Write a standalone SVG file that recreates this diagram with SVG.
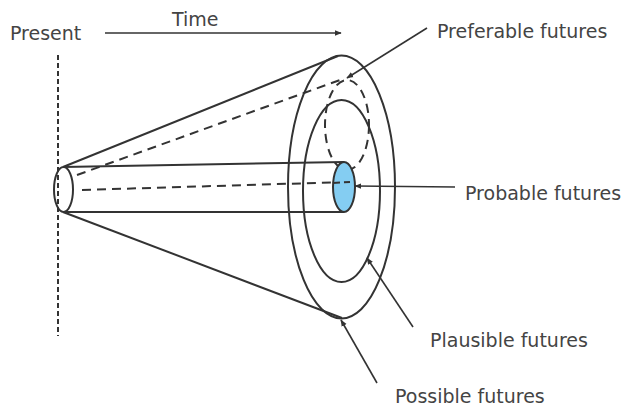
<svg xmlns="http://www.w3.org/2000/svg" width="625" height="408" viewBox="0 0 625 408">
<defs>
<style>
.s{fill:none;stroke:#333;stroke-width:2}
.d{fill:none;stroke:#333;stroke-width:2;stroke-dasharray:9 6}
.t{font-family:"DejaVu Sans",Verdana,sans-serif;font-size:19px;fill:#444}
.c{fill:none;stroke:#333;stroke-width:1.6;marker-end:url(#ah)}
</style>
<marker id="ah" viewBox="0 0 10 10" refX="9" refY="5" markerWidth="7" markerHeight="7" orient="auto" markerUnits="userSpaceOnUse">
<path d="M0,1 L10,5 L0,9 z" fill="#333"/>
</marker>
</defs>
<rect width="625" height="408" fill="#fff"/>
<g id="present-line">
<line x1="58" y1="55" x2="58" y2="336" stroke="#333" stroke-width="2" stroke-dasharray="5 3"/>
</g>
<g id="cone">
<line class="s" x1="63" y1="167" x2="338" y2="56"/>
<line class="s" x1="63" y1="212" x2="342" y2="318"/>
<line class="d" x1="77" y1="175" x2="340" y2="80"/>
<ellipse class="s" cx="341.5" cy="187" rx="53.5" ry="131.5"/>
</g>
<g id="plausible">
<ellipse class="s" cx="341.5" cy="191" rx="38.5" ry="91"/>
</g>
<g id="preferable">
<ellipse class="d" cx="347" cy="125" rx="22" ry="45"/>
</g>
<g id="cylinder">
<line class="s" x1="63" y1="167" x2="344" y2="162"/>
<line class="s" x1="63" y1="212" x2="344" y2="212"/>
<line class="d" x1="82" y1="190" x2="347" y2="182"/>
<ellipse class="s" cx="63.5" cy="189.5" rx="9.5" ry="22.5"/>
</g>
<g id="probable">
<ellipse cx="344" cy="187" rx="11" ry="25" fill="#84cdf2" stroke="#333" stroke-width="2"/>
<line x1="333" y1="183" x2="350" y2="182" stroke="#333" stroke-width="2" stroke-dasharray="7 4"/>
</g>
<g id="connectors">
<line class="c" x1="105" y1="33" x2="341" y2="33"/>
<line class="c" x1="427" y1="28" x2="347" y2="78"/>
<line class="c" x1="455" y1="187" x2="355" y2="186"/>
<line class="c" x1="413" y1="327" x2="367" y2="258"/>
<line class="c" x1="377" y1="383" x2="341" y2="320"/>
</g>
<g id="labels">
<text class="t" x="10" y="40">Present</text>
<text class="t" x="172" y="26">Time</text>
<text class="t" x="437" y="38">Preferable futures</text>
<text class="t" x="465" y="200">Probable futures</text>
<text class="t" x="430" y="347">Plausible futures</text>
<text class="t" x="395" y="403">Possible futures</text>
</g>
</svg>
